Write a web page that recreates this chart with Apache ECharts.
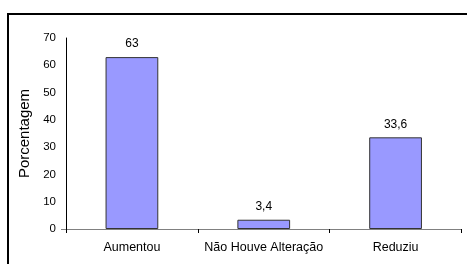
<!DOCTYPE html>
<html><head><meta charset="utf-8">
<script src="https://cdn.jsdelivr.net/npm/echarts@6/dist/echarts.min.js"></script>
<style>html,body{margin:0;padding:0;background:#fff}#c{width:467px;height:264px}</style>
</head><body><div id="c"></div>
<script>
var categories = ['Aumentou', 'Não Houve Alteração', 'Reduziu'];
var values = [63, 3.4, 33.6];
var yTicks = [0, 10, 20, 30, 40, 50, 60, 70];
var labels = ['63', '3,4', '33,6'];

var chart = echarts.init(document.getElementById('c'), null, {renderer: 'canvas'});
var font = 'Liberation Sans, Arial, sans-serif';
chart.setOption({
  animation: false,
  backgroundColor: '#fff',
  graphic: [{
    type: 'rect', shape: {x: 8, y: 14, width: 600, height: 400},
    style: {fill: 'none', stroke: '#000', lineWidth: 2}, silent: true
  }],
  grid: {left: 66, top: 38, width: 395.5, height: 191},
  xAxis: {
    type: 'category', data: categories,
    axisLine: {lineStyle: {color: '#808080', width: 1}},
    axisTick: {show: true, length: 4, lineStyle: {color: '#000'}},
    axisLabel: {color: '#000', fontFamily: font, fontSize: 12.5, margin: 12, interval: 0, hideOverlap: false}
  },
  yAxis: {
    type: 'value', min: yTicks[0], max: yTicks[yTicks.length - 1], interval: 10,
    name: 'Porcentagem', nameLocation: 'middle', nameGap: 27,
    nameTextStyle: {color: '#000', fontFamily: font, fontSize: 15},
    axisLine: {show: true, lineStyle: {color: '#000', width: 1}},
    axisTick: {show: true, length: 5, customValues: [0], lineStyle: {color: '#808080'}},
    axisLabel: {color: '#000', fontFamily: font, fontSize: 11.5, margin: 10},
    splitLine: {show: false}
  },
  series: [{
    type: 'bar', data: values, barWidth: '40%',
    itemStyle: {color: '#9999FF', borderColor: '#333', borderWidth: 1},
    label: {show: true, position: 'top', distance: 7, color: '#000', fontFamily: font, fontSize: 12,
      formatter: function (p) { return labels[p.dataIndex]; }}
  }]
});
</script></body></html>
